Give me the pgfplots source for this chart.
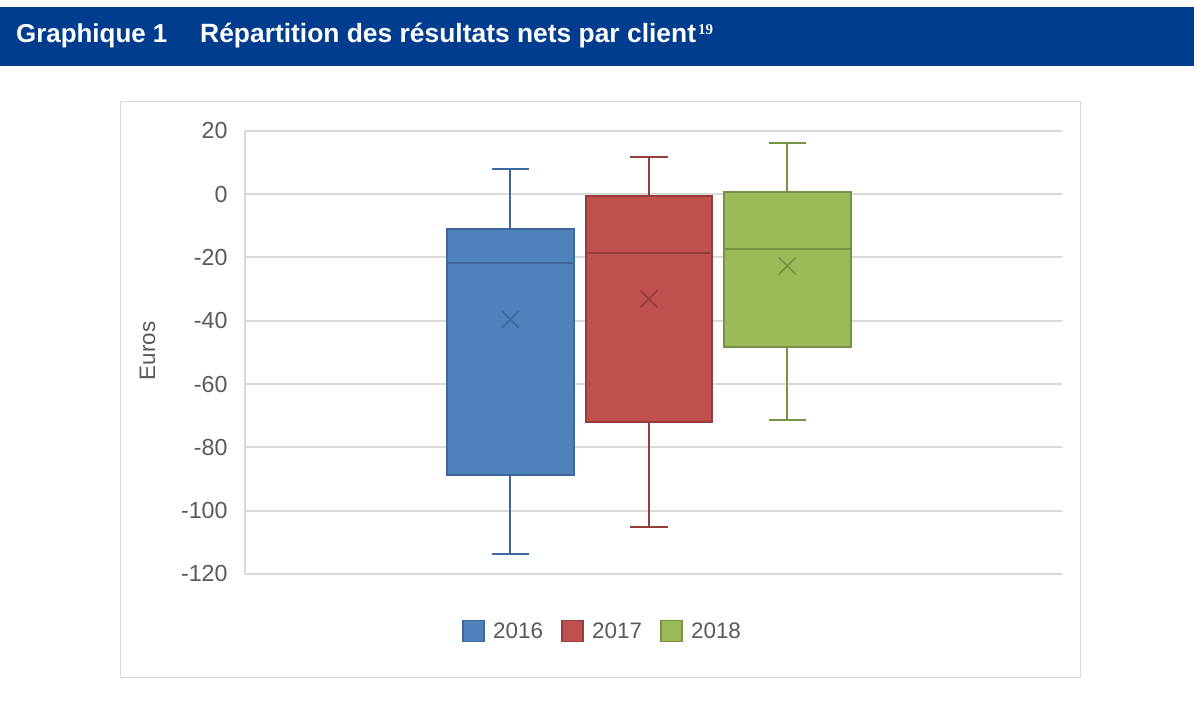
\documentclass[border=0pt]{standalone}
\usepackage{fontspec}
\setmainfont{Liberation Sans}
\newfontfamily\serifbold{Liberation Serif}
\usepackage{pgfplots}
\pgfplotsset{compat=1.18}
\definecolor{hdr}{RGB}{0,61,143}
\definecolor{cA}{RGB}{79,129,189}
\definecolor{dA}{RGB}{62,104,158}
\definecolor{cB}{RGB}{192,80,77}
\definecolor{dB}{RGB}{150,60,57}
\definecolor{cC}{RGB}{155,187,89}
\definecolor{dC}{RGB}{118,146,66}
\definecolor{gridc}{RGB}{217,217,217}
\definecolor{txt}{RGB}{89,89,89}
\begin{document}
\begin{tikzpicture}
\path[use as bounding box] (0bp,0bp) rectangle (1194bp,712bp);
\fill[hdr] (0bp,646.3bp) rectangle (1194bp,704.7bp);
\node[anchor=base west, inner sep=0, text=white, font=\fontsize{26}{30}\selectfont\bfseries] at (16bp,669.7bp) {Graphique 1};
\node[anchor=base west, inner sep=0, text=white, font=\fontsize{26.5}{30}\selectfont\bfseries] at (200bp,669.7bp) {Répartition des résultats nets par client\hspace{2bp}\raisebox{8bp}{\serifbold\bfseries\fontsize{15}{15}\selectfont 19}};
\draw[gridc, line width=1bp] (120bp,610bp) rectangle (1080bp,34bp);
\node[rotate=90, text=txt, font=\fontsize{22.5}{27}\selectfont, inner sep=0] at (147.5bp,361bp) {Euros};
\begin{axis}[at={(245bp,138bp)}, anchor=south west, scale only axis,
  width=817bp, height=443.3bp,
  xmin=-0.916, xmax=4.983, ymin=-120, ymax=20,
  ytick={-120,-100,...,20}, xtick=\empty,
  axis line style={draw=none},
  ymajorgrids, grid style={draw=gridc, line width=1.8bp},
  major tick length=0,
  /pgf/number format/assume math mode=true,
  yticklabel style={font=\fontsize{23.3}{28}\selectfont, text=txt, xshift=-14bp},
  legend style={at={(0.4376,-0.1286)}, anchor=center, legend columns=-1, draw=none, fill=none,
    font=\fontsize{22.5}{27}\selectfont, text=txt,
    /tikz/every odd column/.append style={column sep=6.5bp},
    /tikz/every even column/.append style={column sep=16bp}},
  legend cell align=left,
  clip=false,
]
% y axis line
\addplot[forget plot, gridc, line width=1.8bp] coordinates {(-0.916,-120) (-0.916,20)};
% 2016 (centre 1)
\addplot[forget plot, dA, line width=2bp] coordinates {(1,-11.0) (1,7.9)};
\addplot[forget plot, dA, line width=2bp] coordinates {(0.865,7.9) (1.135,7.9)};
\addplot[forget plot, dA, line width=2bp] coordinates {(1,-88.8) (1,-113.8)};
\addplot[forget plot, dA, line width=2bp] coordinates {(0.865,-113.8) (1.135,-113.8)};
\addplot[forget plot, fill=cA, draw=dA, line width=2bp] coordinates {(0.5425,-88.8) (1.4575,-88.8) (1.4575,-11.0) (0.5425,-11.0)} -- cycle;
\addplot[forget plot, dA, line width=2bp] coordinates {(0.5425,-21.8) (1.4575,-21.8)};
\addplot[forget plot, only marks, mark=x, mark size=12bp, dA, line width=1.6bp] coordinates {(1,-39.6)};
% 2017 (centre 2)
\addplot[forget plot, dB, line width=2bp] coordinates {(2,-0.6) (2,11.6)};
\addplot[forget plot, dB, line width=2bp] coordinates {(1.865,11.6) (2.135,11.6)};
\addplot[forget plot, dB, line width=2bp] coordinates {(2,-72.0) (2,-105.2)};
\addplot[forget plot, dB, line width=2bp] coordinates {(1.865,-105.2) (2.135,-105.2)};
\addplot[forget plot, fill=cB, draw=dB, line width=2bp] coordinates {(1.5425,-72.0) (2.4575,-72.0) (2.4575,-0.6) (1.5425,-0.6)} -- cycle;
\addplot[forget plot, dB, line width=2bp] coordinates {(1.5425,-18.6) (2.4575,-18.6)};
\addplot[forget plot, only marks, mark=x, mark size=12bp, dB, line width=1.6bp] coordinates {(2,-33.1)};
% 2018 (centre 3)
\addplot[forget plot, dC, line width=2bp] coordinates {(3,0.5) (3,16.0)};
\addplot[forget plot, dC, line width=2bp] coordinates {(2.865,16.0) (3.135,16.0)};
\addplot[forget plot, dC, line width=2bp] coordinates {(3,-48.3) (3,-71.3)};
\addplot[forget plot, dC, line width=2bp] coordinates {(2.865,-71.3) (3.135,-71.3)};
\addplot[forget plot, fill=cC, draw=dC, line width=2bp] coordinates {(2.5425,-48.3) (3.4575,-48.3) (3.4575,0.5) (2.5425,0.5)} -- cycle;
\addplot[forget plot, dC, line width=2bp] coordinates {(2.5425,-17.3) (3.4575,-17.3)};
\addplot[forget plot, only marks, mark=x, mark size=12bp, dC, line width=1.6bp] coordinates {(3,-22.7)};
% legend
\addlegendimage{legend image code/.code={\draw[fill=cA, draw=dA, line width=1.6bp] (0bp,-10.5bp) rectangle (21bp,10.5bp);}}
\addlegendentry{2016}
\addlegendimage{legend image code/.code={\draw[fill=cB, draw=dB, line width=1.6bp] (0bp,-10.5bp) rectangle (21bp,10.5bp);}}
\addlegendentry{2017}
\addlegendimage{legend image code/.code={\draw[fill=cC, draw=dC, line width=1.6bp] (0bp,-10.5bp) rectangle (21bp,10.5bp);}}
\addlegendentry{2018}
\end{axis}
\end{tikzpicture}
\end{document}
